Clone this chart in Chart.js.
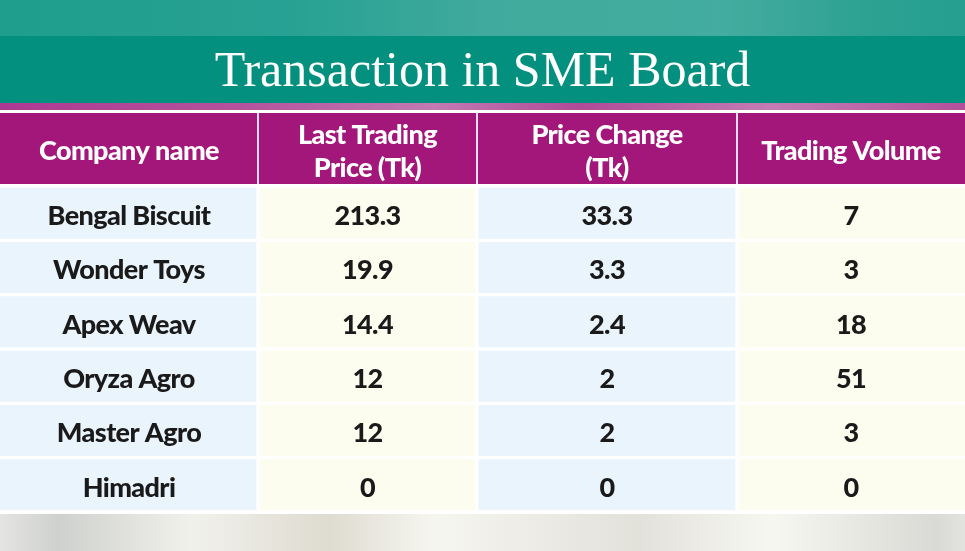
<!DOCTYPE html>
<html>
<head>
<meta charset="utf-8">
<script src="https://cdn.jsdelivr.net/npm/chart.js@4.4.1/dist/chart.umd.min.js"></script>
<style>
  html, body { margin: 0; padding: 0; background: #fff; }
  canvas { display: block; }
</style>
</head>
<body>
<canvas id="smeBoardChart" width="965" height="551"></canvas>
<script>
// table data
const companies = ["Bengal Biscuit", "Wonder Toys", "Apex Weav", "Oryza Agro", "Master Agro", "Himadri"];
const lastTradingPrice = [213.3, 19.9, 14.4, 12, 12, 0];
const priceChange = [33.3, 3.3, 2.4, 2, 2, 0];
const tradingVolume = [7, 3, 18, 51, 3, 0];
const headers = [["Company name"], ["Last Trading", "Price (Tk)"], ["Price Change", "(Tk)"], ["Trading Volume"]];

// column layout (x scale units = pixels)
const columnEdges = [0, 258, 477, 737, 965];
const cellColors = ["#eaf4fc", "#fdfdef", "#eaf4fc", "#fdfdef"];
const textFont = "Lato";

const columns = [companies, lastTradingPrice, priceChange, tradingVolume];

function colCenter(c) {
    return (columnEdges[c] + columnEdges[c + 1]) / 2;
}

const tableBackground = {
    id: "tableBackground",
    beforeDraw(chart) {
        const ctx = chart.ctx;
        const W = chart.width, H = chart.height;
        const t = chart.titleBlock.top;
        const area = chart.chartArea;
        ctx.save();
        ctx.fillStyle = "#fff";
        ctx.fillRect(0, 0, W, H);

        // blurred strip above title
        let g = ctx.createLinearGradient(0, 0, W, 0);
        g.addColorStop(0, "#1f9e8d");
        g.addColorStop(0.3, "#27a193");
        g.addColorStop(0.5, "#3faa9d");
        g.addColorStop(0.75, "#44aca0");
        g.addColorStop(0.9, "#2ca192");
        g.addColorStop(1, "#259f90");
        ctx.fillStyle = g;
        ctx.fillRect(0, 0, W, t);

        // title bar
        ctx.fillStyle = "#03907e";
        ctx.fillRect(0, t, W, 67);

        // pink strip under the title bar
        g = ctx.createLinearGradient(0, 0, W, 0);
        g.addColorStop(0, "#ad3a92");
        g.addColorStop(0.25, "#b4539d");
        g.addColorStop(0.45, "#c27ab3");
        g.addColorStop(0.6, "#b04b98");
        g.addColorStop(0.8, "#c37cb4");
        g.addColorStop(1, "#b3509c");
        ctx.fillStyle = g;
        ctx.fillRect(0, t + 67, W, 7);

        // header row
        const headTop = t + 77;
        const headBottom = area.top - 2;
        ctx.fillStyle = "#a3177a";
        ctx.fillRect(0, headTop, W, headBottom - headTop);
        const xs = chart.scales.x;
        ctx.fillStyle = "#f4dcec";
        for (let c = 1; c < columnEdges.length - 1; c++) {
            ctx.fillRect(Math.round(xs.getPixelForValue(columnEdges[c])) - 1, headTop, 2, headBottom - headTop);
        }

        // blurred strip under the table
        g = ctx.createLinearGradient(0, 0, W, 0);
        g.addColorStop(0, "#e4e5e2");
        g.addColorStop(0.06, "#cfd1ce");
        g.addColorStop(0.2, "#f1f1ec");
        g.addColorStop(0.34, "#dedbd0");
        g.addColorStop(0.45, "#f6f6f0");
        g.addColorStop(0.66, "#e2e1da");
        g.addColorStop(0.8, "#f7f7f2");
        g.addColorStop(0.97, "#d9dad5");
        g.addColorStop(1, "#e3e4e0");
        ctx.fillStyle = g;
        ctx.fillRect(0, area.bottom + 2, W, H - area.bottom - 2);
        ctx.restore();
    },
    afterDatasetsDraw(chart) {
        const ctx = chart.ctx;
        const xs = chart.scales.x, ys = chart.scales.y;
        const headTop = chart.titleBlock.top + 77;
        const headMid = (headTop + chart.chartArea.top - 2) / 2 + 3;
        ctx.save();
        ctx.textAlign = "center";
        ctx.textBaseline = "middle";
        ctx.letterSpacing = "-0.6px";

        // header labels
        ctx.fillStyle = "#ffffff";
        ctx.font = "900 27px " + textFont;
        headers.forEach((lines, c) => {
            const x = xs.getPixelForValue(colCenter(c));
            lines.forEach((line, k) => {
                const y = headMid + (k - (lines.length - 1) / 2) * 33;
                ctx.fillText(line, x, y);
            });
        });

        // cell values
        ctx.fillStyle = "#1a1a1a";
        ctx.font = "900 27px " + textFont;
        companies.forEach((name, r) => {
            const y = ys.getPixelForValue(r);
            columns.forEach((col, c) => {
                ctx.fillText(String(col[r]), xs.getPixelForValue(colCenter(c)), y + 3);
            });
        });
        ctx.restore();
    }
};

const ctx = document.getElementById("smeBoardChart").getContext("2d");

new Chart(ctx, {
    type: "bar",
    data: {
        labels: companies,
        datasets: columns.map((col, c) => ({
            label: headers[c].join(" "),
            data: companies.map(() => [columnEdges[c], columnEdges[c + 1]]),
            backgroundColor: cellColors[c],
            borderColor: "#ffffff",
            borderWidth: {
                left: c === 0 ? 0 : 2,
                right: c === columns.length - 1 ? 0 : 2,
                top: 2,
                bottom: 2
            },
            borderSkipped: false,
            barPercentage: 1,
            categoryPercentage: 1,
            grouped: false
        }))
    },
    options: {
        responsive: false,
        animation: false,
        indexAxis: "y",
        layout: {
            padding: { top: 36, bottom: 39, left: 0, right: 0 }
        },
        scales: {
            x: { type: "linear", min: 0, max: 965, display: false },
            y: { display: false }
        },
        plugins: {
            legend: { display: false },
            tooltip: { enabled: false },
            title: {
                display: true,
                text: "Transaction in SME Board",
                color: "#ffffff",
                font: { family: "Liberation Serif", size: 50, weight: "normal", lineHeight: 1.1 },
                padding: { top: 9, bottom: 86 }
            }
        }
    },
    plugins: [tableBackground]
});
</script>
</body>
</html>
